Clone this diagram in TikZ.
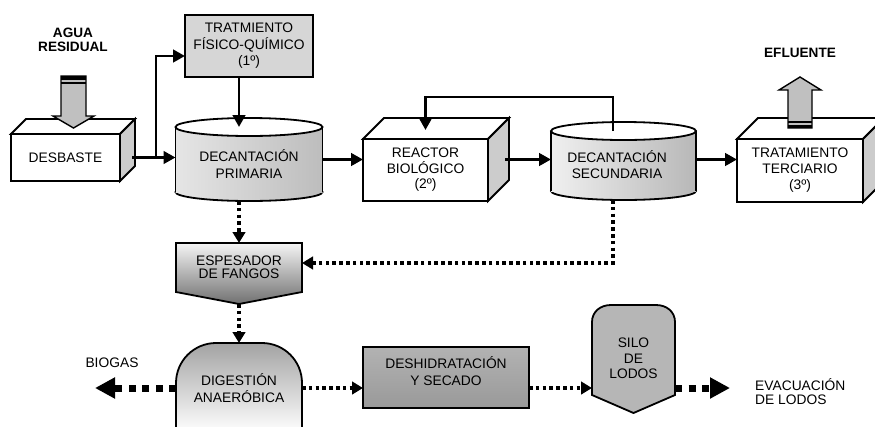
\documentclass[tikz,border=0pt]{standalone}
\usepackage{fontspec}
\setmainfont{Liberation Sans}
\usetikzlibrary{arrows.meta,calc}
\pgfdeclarelayer{back}
\pgfsetlayers{back,main}

\definecolor{sideface}{HTML}{CCCCCC}
\definecolor{panel}{HTML}{D6D6D6}
\definecolor{blockarrow}{HTML}{C0C0C0}
\definecolor{silofill}{HTML}{B6B6B6}

% top and right faces of a box whose front face is node #1, depth #2
\newcommand\boxfaces[2]{%
  \draw[outline, fill=white] (#1.north west) -- ++(#2,-#2) -- ($(#1.north east)+(#2,-#2)$) -- (#1.north east) -- cycle;
  \draw[outline, fill=sideface] (#1.north east) -- ++(#2,-#2) -- ($(#1.south east)+(#2,-#2)$) -- (#1.south east) -- cycle;}

% upright tank around node #1: radii #2, #3, body shading #4
\newcommand\tankbody[4]{%
  \shadedraw[#4, outline] (#1.south) ellipse[x radius=#2, y radius=#3];
  \shade[#4] (#1.north west) rectangle (#1.south east);
  \draw[outline] (#1.north west) -- (#1.south west) (#1.north east) -- (#1.south east);
  \draw[outline, fill=white] (#1.north) ellipse[x radius=#2, y radius=#3];}

\begin{document}
\begin{tikzpicture}[x=1pt, y=-1pt,
  lbl/.style={font=\fontsize{13.8pt}{16.5pt}\selectfont, align=center, inner sep=0pt},
  outline/.style={line width=1.8pt},
  geom/.style={lbl, outer sep=0pt},
  face/.style={geom, draw, outline, fill=white},
  flow/.style={line width=2.9pt, -{Triangle[length=12pt,width=12.5pt]}},
  sludge/.style={line width=3.3pt, dash pattern=on 3.6pt off 3.2pt, -{Triangle[length=11pt,width=12.5pt]}},
  bigsludge/.style={line width=7pt, dash pattern=on 7pt off 6.5pt, -{Triangle[length=20pt,width=20pt]}},
  tag/.style={font=\fontsize{13.8pt}{14pt}\selectfont, inner sep=0pt},
  headline/.style={font=\bfseries\fontsize{13.6pt}{14.5pt}\selectfont, align=center, inner sep=0pt},
]
\useasboundingbox (0,0) rectangle (875,426);

% ---- water line ----
\node[face, minimum width=109pt, minimum height=47pt] (desb) at (65.5,157.5) {DESBASTE};
\node[face, fill=panel, minimum width=128pt, minimum height=62pt] (fq) at (249,46) {TRATMIENTO\\FÍSICO-QUÍMICO\\(1º)};
\node[geom, minimum width=147pt, minimum height=65pt,
      label={[lbl, yshift=-4.5pt]center:{DECANTACIÓN\\PRIMARIA}}] (prim) at (249,159.5) {};
\node[face, font=\fontsize{13.8pt}{15.5pt}\selectfont, minimum width=125pt, minimum height=62pt] (reac) at (425.5,170) {REACTOR\\BIOLÓGICO\\(2º)};
\node[geom, minimum width=145pt, minimum height=60pt,
      label={[lbl, xshift=-6.5pt, yshift=-3.5pt]center:{DECANTACIÓN\\SECUNDARIA}}] (sec) at (623.5,161) {};
\node[face, font=\fontsize{13.8pt}{16pt}\selectfont, minimum width=126pt, minimum height=63pt] (ter) at (800,170.5) {TRATAMIENTO\\TERCIARIO\\(3º)};

% ---- sludge line ----
\node[geom, font=\fontsize{13.8pt}{13pt}\selectfont, minimum width=126pt, minimum height=49pt] (esp) at (239,267.5) {ESPESADOR\\DE FANGOS};
\node[geom, font=\fontsize{13.8pt}{17pt}\selectfont, minimum width=126pt, minimum height=90pt] (dig) at (239,388) {DIGESTIÓN\\ANAERÓBICA};
\node[geom, minimum width=166pt, minimum height=61pt,
      label={[lbl, font=\fontsize{13.8pt}{17pt}\selectfont, yshift=6pt]center:{DESHIDRATACIÓN\\Y SECADO}}] (deh) at (446,377.5) {};
\node[geom, font=\fontsize{13.8pt}{15.5pt}\selectfont, minimum width=83pt, minimum height=73pt] (silo) at (633.5,358.5) {SILO\\DE\\LODOS};

% ---- free labels ----
\node[headline] (agua) at (73,40) {AGUA\\RESIDUAL};
\node[headline] (eflu) at (800,53) {EFLUENTE};
\node[tag] (biogas) at (112,363) {BIOGAS};
\node[tag, anchor=west, align=left] (evac) at (755,392) {EVACUACIÓN\\DE LODOS};

% ---- bodies behind the labels ----
\begin{pgfonlayer}{back}
  \boxfaces{desb}{15}
  \boxfaces{reac}{21}
  \boxfaces{ter}{21}
  \tankbody{prim}{73.5}{9}{left color=black!10, middle color=black!4, right color=black!26}
  \tankbody{sec}{72.5}{9}{left color=black!6, middle color=white, right color=black!28}
  \shadedraw[outline, top color=black!4, bottom color=black!56]
    (esp.north west) -- (esp.north east) -- (esp.south east) -- ($(esp.south)+(0,12)$) -- (esp.south west) -- cycle;
  \shadedraw[outline, rounded corners=40pt, top color=black!36, bottom color=white]
    (dig.south west) -- (dig.north west) -- (dig.north east) -- (dig.south east);
  \shadedraw[outline, top color=black!30, middle color=black!21, bottom color=black!40]
    (deh.north west) rectangle (deh.south east);
  \filldraw[outline, fill=silofill] (silo.south west) -- (silo.north west)
    .. controls ($(silo.north west)+(0,-10)$) and ($(silo.north west)+(8,-17)$) .. ($(silo.north west)+(19,-17)$)
    -- ($(silo.north east)+(-19,-17)$)
    .. controls ($(silo.north east)+(-8,-17)$) and ($(silo.north east)+(0,-10)$) .. (silo.north east)
    -- (silo.south east) -- ($(silo.south)+(0,18)$) -- cycle;
\end{pgfonlayer}

% ---- inflow and outflow block arrows ----
\filldraw[line width=1.4pt, fill=blockarrow] (61,76) -- (86,76) -- (86,116) -- (94,116) -- (73.5,128) -- (53,116) -- (61,116) -- cycle;
\fill (61,76) rectangle (86,80.3);
\fill (61,82.3) rectangle (86,84);
\filldraw[line width=1.4pt, fill=blockarrow] (788,128) -- (788,90) -- (779,90) -- (800,77) -- (821,90) -- (812,90) -- (812,128) -- cycle;
\fill (788,120.5) rectangle (812,122.5);
\fill (788,124.5) rectangle (812,128);

% ---- water connectors ----
\coordinate (split) at ([xshift=36pt]desb.east);
\coordinate (reacR) at ([xshift=17pt]reac.east);
\draw[flow] ([xshift=12pt]desb.east) -- (desb.east -| prim.west);
\draw[flow] (split) |- ([yshift=-10pt]fq.west);
\draw[flow] ([xshift=-10pt]fq.south) -- ([xshift=-10pt]prim.north);
\draw[flow] (prim.east) -- (prim.east -| reac.west);
\draw[flow] (prim.east -| reacR) -- (prim.east -| sec.west);
\draw[flow] (prim.east -| sec.east) -- (prim.east -| ter.west);
\draw[flow] ([xshift=-10.5pt]sec.north) -- ++(0,-34) -| ([yshift=9pt]reac.north);

% ---- sludge connectors ----
\coordinate (primbase) at ([yshift=-9pt]prim.south);
\coordinate (secbase) at ([xshift=-10.5pt, yshift=-9pt]sec.south);
\coordinate (esptip) at ([yshift=-12pt]esp.south);
\coordinate (biogasend) at (95,388);
\coordinate (evacend) at (730,388);
\draw[sludge] (primbase -| esp.north) -- (esp.north);
\draw[sludge] (secbase) |- ([yshift=4.5pt]esp.east);
\draw[sludge] (esptip) -- (dig.north);
\draw[bigsludge] (dig.west) -- (biogasend);
\draw[sludge] (dig.east) -- (dig.east -| deh.west);
\draw[sludge] (dig.east -| deh.east) -- (dig.east -| silo.west);
\draw[bigsludge] (dig.east -| silo.east) -- (evacend);
\end{tikzpicture}
\end{document}
